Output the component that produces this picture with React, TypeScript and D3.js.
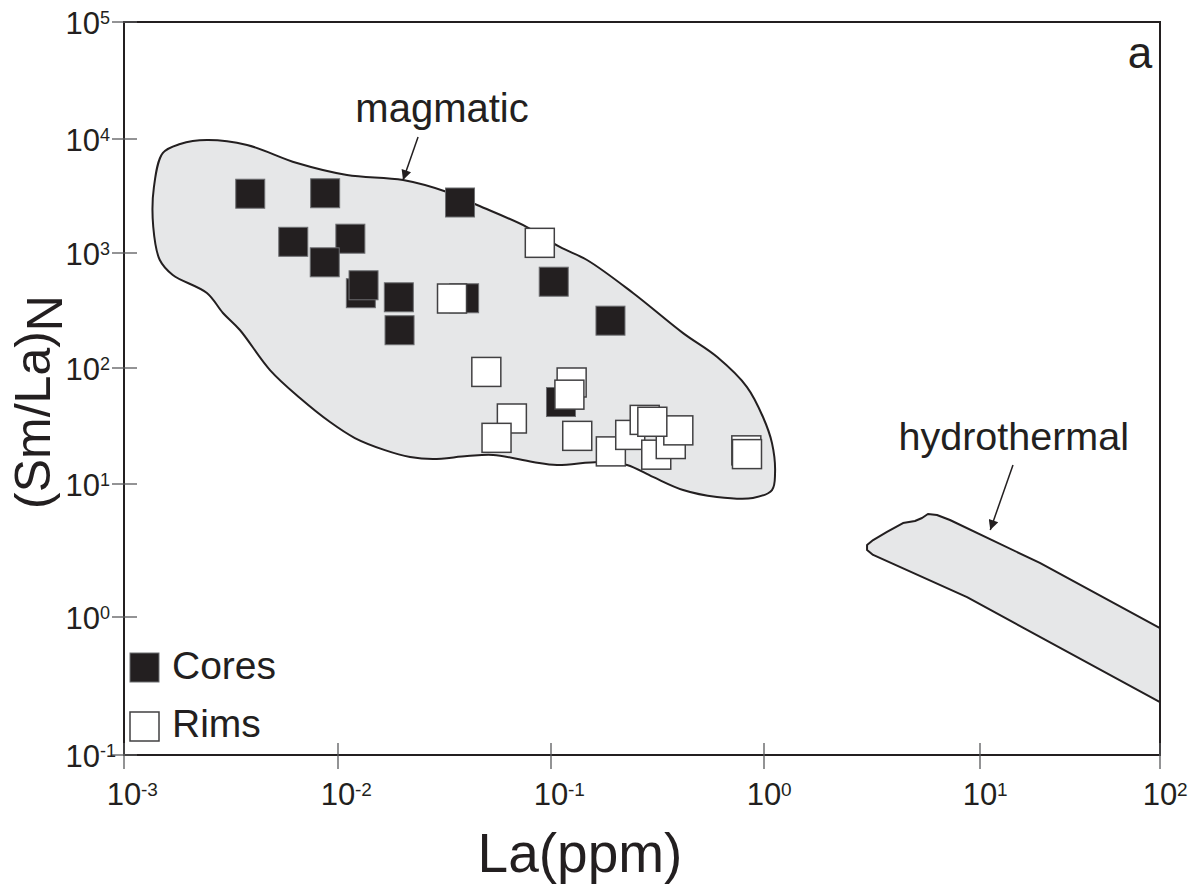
import React from "react";
import * as d3 from "d3";

// axis decades
const xTicks = [1e-3, 1e-2, 1e-1, 1, 10, 100];
const xExp = ["-3", "-2", "-1", "0", "1", "2"];
const yTicks = [1e-1, 1, 10, 100, 1e3, 1e4, 1e5];
const yExp = ["-1", "0", "1", "2", "3", "4", "5"];

// cores (filled squares)
const coresLa = [0.00389, 0.00871, 0.0374, 0.00618, 0.01143, 0.00867, 0.0128, 0.01318, 0.0193, 0.01945, 0.0391, 0.103, 0.1902, 0.1114];
const coresSmLa = [3311, 3342, 2773, 1254, 1335, 830, 447, 524, 412, 213, 404, 563, 258, 50.9];

// rims (open squares)
const rimsLa = [0.0343, 0.0886, 0.0497, 0.125, 0.122, 0.0655, 0.0555, 0.1328, 0.191, 0.2355, 0.312, 0.365, 0.396, 0.2754, 0.299, 0.826, 0.832];
const rimsSmLa = [402, 1228, 92.5, 75, 58.9, 36.7, 25.0, 26.0, 19.1, 26.5, 17.9, 22.1, 29.0, 35.7, 34.4, 19.5, 18.1];

// magmatic field outline
const magmaticLa = [0.00138, 0.00152, 0.00183, 0.00244, 0.00376, 0.00643, 0.01102, 0.0202, 0.0325, 0.045, 0.0771, 0.11, 0.1476, 0.2427, 0.417, 0.601, 0.832, 0.989, 1.089, 1.125, 1.089, 0.887, 0.601, 0.417, 0.301, 0.2275, 0.17, 0.1067, 0.0822, 0.0535, 0.0404, 0.0279, 0.0218, 0.0166, 0.012, 0.00918, 0.00664, 0.00481, 0.00348, 0.0029, 0.00244, 0.00169, 0.00147, 0.00137];
const magmaticSmLa = [3795, 7540, 9036, 9795, 8857, 6151, 4830, 4365, 3428, 2636, 1690, 1129, 869, 449, 201, 125, 68.5, 37.8, 22.5, 12.4, 9.01, 7.85, 7.99, 9.01, 11.5, 14.6, 15.5, 14.6, 15.5, 17.8, 17.4, 16.4, 17.1, 19.6, 24.9, 34.2, 55.1, 96, 214, 301, 449, 644, 869, 1690];

// hydrothermal field outline
const hydroLa = [3.0, 3.2, 3.71, 4.4, 5.0, 5.39, 5.74, 6.32, 7.26, 21.5, 100, 100, 8.71, 3.2, 3.0];
const hydroSmLa = [3.48, 3.79, 4.36, 5.09, 5.27, 5.55, 5.95, 5.85, 5.36, 2.55, 0.832, 0.242, 1.41, 2.93, 3.19];

const FONT = "'Liberation Sans', Arial, Helvetica, sans-serif";
const INK = "#231f20";

export default function App() {
  const width = 1197;
  const height = 890;

  const x = d3.scaleLog().domain(xTicks).range([124, 338, 551, 764, 980, 1160]);
  const y = d3.scaleLog().domain(yTicks).range([755, 617, 484, 368, 253, 139, 22]);
  const x0 = x(xTicks[0]);
  const x1 = x(xTicks[xTicks.length - 1]);
  const y0 = y(yTicks[0]);
  const y1 = y(yTicks[yTicks.length - 1]);

  const smooth = d3
    .line<[number, number]>()
    .x((d) => x(d[0]))
    .y((d) => y(d[1]))
    .curve(d3.curveCatmullRomClosed.alpha(0.5));
  const straight = d3
    .line<[number, number]>()
    .x((d) => x(d[0]))
    .y((d) => y(d[1]))
    .curve(d3.curveLinearClosed);

  const magmatic = magmaticLa.map((v, i) => [v, magmaticSmLa[i]] as [number, number]);
  const hydro = hydroLa.map((v, i) => [v, hydroSmLa[i]] as [number, number]);

  const sq = 29;

  return (
    <div style={{ position: "absolute", left: 0, top: 0 }}>
      <svg width={width} height={height} style={{ display: "block", background: "#fff" }} fontFamily={FONT}>
        <defs>
          <marker id="arrowHead" viewBox="0 0 10 10" refX="10" refY="5" markerWidth="15" markerHeight="10" markerUnits="userSpaceOnUse" orient="auto">
            <path d="M0,0 L10,5 L0,10 z" fill={INK} />
          </marker>
          <clipPath id="plotClip">
            <rect x={x0} y={y1} width={x1 - x0} height={y0 - y1} />
          </clipPath>
        </defs>

        {/* fields */}
        <g clipPath="url(#plotClip)">
          <path d={smooth(magmatic) || ""} fill="#e6e7e8" stroke={INK} strokeWidth={2} />
          <path d={straight(hydro) || ""} fill="#e6e7e8" stroke={INK} strokeWidth={2} strokeLinejoin="round" />
        </g>

        {/* annotations */}
        <text x={x(0.0308)} y={y(13970)} fontSize={40} textAnchor="middle" fill={INK}>magmatic</text>
        <line x1={x(0.02376)} y1={y(10400)} x2={x(0.0202)} y2={y(4365)} stroke={INK} strokeWidth={1.5} markerEnd="url(#arrowHead)" />
        <text x={x(15.4)} y={y(19.6)} fontSize={39.5} textAnchor="middle" fill={INK}>hydrothermal</text>
        <line x1={x(15.25)} y1={y(14.6)} x2={x(11.4)} y2={y(4.51)} stroke={INK} strokeWidth={1.5} markerEnd="url(#arrowHead)" />

        {/* cores */}
        {coresLa.map((v, i) => (
          <rect key={"c" + i} x={x(v) - sq / 2} y={y(coresSmLa[i]) - sq / 2} width={sq} height={sq} fill={INK} stroke="#6d6e71" strokeWidth={1} />
        ))}
        {/* rims */}
        {rimsLa.map((v, i) => (
          <rect key={"r" + i} x={x(v) - sq / 2} y={y(rimsSmLa[i]) - sq / 2} width={sq} height={sq} fill="#fff" stroke="#414042" strokeWidth={1.5} />
        ))}

        {/* frame */}
        <rect x={x0} y={y1} width={x1 - x0} height={y0 - y1} fill="none" stroke={INK} strokeWidth={2} />

        {/* x ticks */}
        {xTicks.map((t, i) => (
          <g key={"xt" + i}>
            <line x1={x(t)} x2={x(t)} y1={y0 - 12} y2={y0 + 14} stroke="#58595b" strokeWidth={1.3} />
            <text x={x(t)} y={y0 + 50} fontSize={31} textAnchor="middle" fill={INK}>10</text>
            <text x={x(t) + 17} y={y0 + 41} fontSize={19} fill={INK}>{xExp[i]}</text>
          </g>
        ))}

        {/* y ticks */}
        {yTicks.map((t, i) => (
          <g key={"yt" + i}>
            <line x1={x0 - 12} x2={x0 + 13} y1={y(t)} y2={y(t)} stroke="#58595b" strokeWidth={1.3} />
            <text x={x0 - 24} y={y(t) + 12} fontSize={31} textAnchor="end" fill={INK}>10</text>
            <text x={x0 - 24} y={y(t) + 2} fontSize={18} fill={INK}>{yExp[i]}</text>
          </g>
        ))}

        {/* axis titles */}
        <text x={580} y={872} fontSize={55} textAnchor="middle" fill={INK}>La(ppm)</text>
        <text transform={`translate(50,402) rotate(-90)`} fontSize={50} textAnchor="middle" fill={INK}>
          (Sm/La)<tspan dy={12}>N</tspan>
        </text>

        {/* panel label */}
        <text x={1140} y={68} fontSize={44} textAnchor="middle" fill={INK}>a</text>

        {/* legend */}
        <rect x={130} y={653} width={sq} height={sq} fill={INK} stroke="#6d6e71" strokeWidth={1} />
        <text x={172} y={679} fontSize={39} fill={INK}>Cores</text>
        <rect x={130} y={712} width={sq} height={sq} fill="#fff" stroke="#414042" strokeWidth={1.5} />
        <text x={172} y={737} fontSize={39} fill={INK}>Rims</text>
      </svg>
    </div>
  );
}
